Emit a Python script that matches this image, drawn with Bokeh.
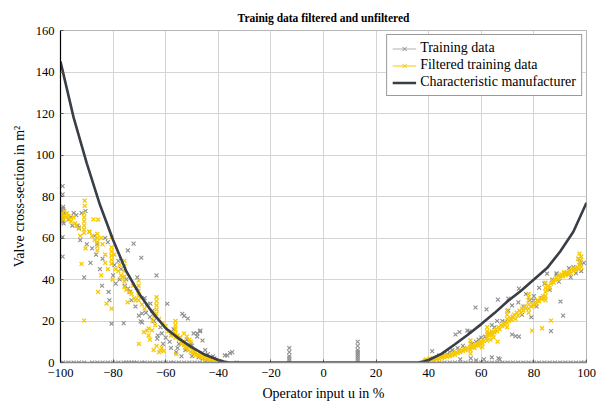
from bokeh.plotting import figure
from bokeh.models import Legend, LegendItem, FixedTicker, ColumnDataSource
from bokeh.embed import file_html
from bokeh.resources import INLINE

# ---------------- data ----------------
title_text = "Trainig data filtered and unfiltered"
x_ticks = [-100, -80, -60, -40, -20, 0, 20, 40, 60, 80, 100]
x_tick_labels = ["\u2212100", "\u221280", "\u221260", "\u221240", "\u221220", "0", "20", "40", "60", "80", "100"]
y_ticks = [0, 20, 40, 60, 80, 100, 120, 140, 160]
y_tick_labels = ["0", "20", "40", "60", "80", "100", "120", "140", "160"]

# characteristic curve of the manufacturer
char_u = [-100, -95, -90, -85, -80, -75, -70, -65, -60, -55, -50, -45, -40, -38, -36,
          36, 38, 40, 45, 50, 55, 60, 65, 70, 75, 80, 85, 90, 95, 100]
char_y = [145, 118, 96, 76, 59, 44, 33, 24, 16.5, 11.5, 7.3, 3.7, 1.2, 0.5, 0,
          0, 0.5, 1.2, 4.3, 8.8, 13.5, 18.5, 23.8, 29.5, 34.5, 40, 45.5, 53.5, 63, 77]

# raw training data (left branch)
train_left_u = [-99.2, -99.2, -99.2, -99.2, -99, -99, -99, -99, -99, -99, -99, -99, -98.8,
                -96, -95, -94, -93.5, -92, -91, -90.5, -89, -88.6, -87, -86, -85, -84.2, -83, -82,
                -81.7, -80.6, -80, -79, -78, -77, -76, -75, -74.4, -73.5, -72.2, -71, -70.8, -69.3,
                -69.5, -68, -67, -66, -65, -63.5, -63, -62, -61, -60, -59.4, -58, -57, -56, -55, -54,
                -53.7, -53, -52, -51, -50, -49.4, -49, -48, -47, -46, -45, -44, -43, -42, -37.5, -35.5,
                -51.6, -69, -70.2, -69, -65.8, -46.8, -48, -50, -46, -63.2, -36.6, -34.7, -74.3, -81.4,
                -97, -95.5, -93, -92.5, -90, -88, -86.5, -84, -79.5, -77.5, -75.5, -73, -71.5, -67.5,
                -64.5, -61.5, -58.5, -55.5, -54.5, -52.5, -50.5, -47.5, -44.5, -41.5, -40.5]
train_left_y = [85, 81, 60.5, 51, 75, 74, 73, 72, 71, 70, 69, 68, 67,
                70, 72, 71, 66, 72, 41, 73, 63, 48, 61, 57, 45, 37, 60, 58,
                34, 18.7, 42, 38, 49, 45, 19, 40, 54, 34, 57.3, 36, 41, 50.5,
                19.8, 31, 28, 22, 25, 42, 13, 17, 9, 12, 28.3, 7, 16, 5, 9, 3,
                23.5, 22.5, 11, 8, 3, 14, 5, 12.5, 15, 2, 6, 4, 1.5, 3, 3.4, 4.5,
                21.2, 19.3, 22.6, 23.6, 28.4, 15.4, 14, 8.2, 10.6, 11.5, 3.4, 5, 35.6, 30,
                69, 66, 65, 59, 57, 55, 52, 50, 47, 40, 37, 30, 27, 24,
                20, 14, 10, 7, 12, 6, 9, 2.5, 1, 2, 0.8]

# raw training data (right branch)
train_right_u = [41.3, 43, 45, 47, 49, 50.2, 51.7, 53, 54.7, 55.5, 57.8, 58, 60, 62, 63, 64, 66.3,
                 66.5, 67, 68, 70.3, 71.7, 72, 73, 74.1, 74.3, 76, 77, 79.9, 80, 82, 83, 84, 86.5,
                 87, 88.6, 90.1, 91.1, 92, 93.3, 95, 97, 97.5, 98, 99, 52, 56, 58, 61, 64,
                 74.3, 79, 81.4, 85, 88.6, 93.3, 97.7, 70.3, 71.7, 66,
                 44, 48, 51, 56.5, 59, 61.5, 65, 69, 75.5, 78.5, 81, 86, 89.5, 94, 96]
train_right_y = [5.5, 2, 3, 4, 6, 13.5, 14.7, 8, 15.4, 15, 26.5, 10, 12, 25.6, 14, 18, 30.3,
                 2, 1.5, 20, 30.8, 13.5, 22, 12.7, 29, 12.5, 27, 33, 29.9, 32, 36, 31, 38, 15.1,
                 40, 42.4, 29.4, 22.6, 43, 45.5, 46, 50, 47, 44, 48, 1.5, 2, 1, 1.5, 2.5,
                 35.6, 21.8, 30, 42.8, 43, 42.7, 48.5, 25, 27.5, 20,
                 3.5, 5, 7, 9, 11, 12.5, 17, 19.5, 23, 30, 27, 35, 39, 41, 43]

# raw training data lying on / near the zero line
train_zero_u = [-99, -97, -95, -93, -91, -88, -86, -84, -82, -80, -78, -76, -75, -74, -73, -72,
                -71, -69, -68, -66, -64, -62, -60, -58, -57, -55, -53, -51, -49, -47, -45, -43,
                -41, -39, -33, -13, -13, -13, -13, -13, -13, 13, 13, 13, 13, 13, 13, 13, 13, 13,
                38, 40, 42, 44, 46, 48, 50, 52, 54, 56, 58, 60, 62, 64, 66, 68, 70, 72, 74, 76,
                78, 80, 82, 84, 86, 88, 90, 92, 94, 96, 98, 99]
train_zero_y = [0, 0, 0, 0, 0, 0, 0, 0, 0, 0, 0, 0, 0, 0, 0, 0,
                0, 0, 0, 0, 0, 0, 0, 0, 0, 0, 0, 0, 0, 0, 0, 0,
                0, 0, 0, 0, 1, 2, 3, 5, 7, 0, 1, 2, 3, 4, 5, 6, 8, 10,
                0, 0, 0, 0, 0, 0, 0, 0, 0, 0, 0, 0, 0, 0, 0, 0, 0, 0, 0, 0,
                0, 0, 0, 0, 0, 0, 0, 0, 0, 0, 0, 0]

# filtered training data (left branch)
filt_left_u = [-99.3, -99.3, -99, -98.5, -98.5, -98, -97.5, -97, -96.5, -96, -95, -94.5, -94, -93,
               -91, -91, -91, -91, -91, -91, -90.8, -90.8, -91, -92, -90.5, -92.5, -89,
               -86, -86, -86, -86, -86, -87.5, -85.7, -85.7, -87, -88, -84.5, -84, -83, -82.5, -83, -84.5, -82,
               -80.6, -80.6, -80.6, -80.6, -80.6, -80.6, -80.6, -80.2, -79.5, -79, -78, -77.5, -77, -76.5,
               -75.7, -75.7, -75.7, -75.7, -75.7, -75.7, -74.5, -75, -74, -73, -72.5, -72, -71.5,
               -70.3, -70.3, -70.3, -70.3, -70.3, -70.2, -69, -68, -67, -66.5, -66, -65, -64.5, -64,
               -63.5, -63.5, -63.5, -63.5, -63.5, -62, -62.5, -61, -60, -59, -58, -57.5,
               -56.3, -56.3, -56.3, -56.3, -56.3, -56, -55.5, -55, -54.5, -54, -53.5, -53, -52.5, -52,
               -51.5, -51, -50.5, -50, -49.5, -49, -48.5, -48, -47.5, -47, -46.5, -46, -45.5, -45,
               -44.5, -44, -43.5, -43, -42.5, -42, -41.5, -41, -40.5, -40, -39.5, -39,
               -53, -52, -51, -50.5, -68.3, -66.5, -65.2, -64.6, -63.5, -62.5, -61.5, -60.8]
filt_left_y = [72, 70.5, 69, 73, 71, 70, 72, 70.5, 69, 68, 70, 67, 66, 64.5,
               72, 70, 68, 66, 64, 62.5, 78, 75.5, 20.2, 47.5, 55, 61, 63,
               62, 60, 58, 56, 54, 69, 68.8, 34, 59, 61, 60, 57, 52, 28.4, 48, 42, 45,
               60.5, 55.5, 53.5, 51.5, 49.5, 47.6, 26, 40, 52, 45, 44, 47, 42, 41,
               49, 46.5, 44, 41.5, 39, 36.5, 29, 35, 34, 33, 37, 31, 30,
               39.5, 37, 34.5, 32, 30, 9, 28, 26, 15.4, 13, 11, 20, 22, 18,
               31.5, 29.5, 27.5, 25.5, 23.5, 5.8, 21, 19, 17.5, 15, 13, 14,
               20, 18, 16, 14, 12, 4, 13, 11, 12, 9, 10, 8.5, 7, 8,
               6, 7.5, 5, 6, 4.5, 5.5, 3.5, 4, 3, 4.5, 2.5, 3.5, 2, 3,
               1.5, 2.5, 1.2, 2, 1, 1.5, 0.8, 1.2, 0.6, 0.8, 0.5, 0.4,
               14, 12.5, 11, 10, 14.6, 16.4, 15.5, 6, 8, 5, 7, 5.5]

# filtered training data (right branch)
filt_right_u = [38.5, 39, 39.5, 40, 40.5, 41, 41.5, 42, 42.5, 43, 43.5, 44, 44.5, 45, 45.5, 46,
                46.5, 47, 47.5, 48, 48.5, 49, 49.5, 50, 50.5, 51, 51.5, 52, 52.5, 53, 53.5, 54,
                54.5, 55, 55.9, 55.9, 55.9, 55.9, 55.9, 56.5, 57, 57.5, 58, 58.5, 59, 59.5, 60,
                60.5, 61, 62.2, 62.2, 62.2, 62.2, 62.2, 63, 63.5, 64, 64.5, 65, 65.5, 66, 66.2,
                66.5, 67, 67.5, 68, 68.5, 69, 69.8, 69.8, 69.8, 69.8, 69.8, 70.5, 71, 71.5, 72,
                72.5, 73, 73.5, 74, 74.5, 75, 75.5, 76, 76.5, 77, 78, 78, 78, 78, 78, 78,
                79.3, 83.1, 86.5, 79, 79.5, 80, 80.5, 81, 81.5, 82, 82.5, 83, 83.5, 84,
                84.4, 84.4, 84.4, 84.4, 84.4, 85, 85.5, 86, 86.5, 87, 87.5, 88, 88.5, 89, 89.5,
                90, 90.5, 91, 91.5, 92, 92.5, 93, 93.5, 94, 94.5, 95, 95.5, 96, 96.5, 97, 97.3,
                97.5, 97.8, 98, 98, 97.3, 96.8, 63.5, 64.7, 60.3, 91.4]
filt_right_y = [1, 1.5, 0.8, 1.2, 2, 1, 1.8, 1.3, 2.2, 1.5, 2.5, 1.8, 2.8, 2.2, 3, 2.5,
                3.3, 2.8, 3.6, 3, 4, 3.5, 4.3, 3.8, 5, 4.5, 5.5, 5, 6, 5.5, 6.5, 6,
                7, 6.5, 4.3, 6, 7.5, 9, 10.6, 7.5, 8, 7, 8.5, 9, 8, 9.5, 10,
                9, 10.5, 10.6, 12, 13.5, 15, 17, 13, 14, 15, 13.5, 14.5, 16, 15, 10.1,
                17, 16, 18, 17.5, 19, 18, 17, 19, 21, 23, 25, 20, 21.5, 20.5, 22,
                23, 21, 24, 22.5, 25, 24, 26, 25, 27, 26, 24, 26, 28, 30, 31.5, 33,
                15.4, 16.5, 20.2, 27, 28, 27.5, 29, 28.5, 30, 29.5, 31, 30.5, 32, 31,
                30, 32, 34, 36, 38.5, 35, 37, 36, 38, 39.5, 38.5, 40, 41, 40, 42,
                41, 42.5, 41.5, 43, 42, 43.5, 42.5, 44, 43, 45, 44, 45.5, 44.5, 46, 45, 47,
                48, 49.5, 46, 51, 52.5, 50, 11, 12, 7.4, 43.5]

train_u = train_left_u + train_right_u + train_zero_u
train_y = train_left_y + train_right_y + train_zero_y
filt_u = filt_left_u + filt_right_u
filt_y = filt_left_y + filt_right_y

# ---------------- styling ----------------
SERIF = "Liberation Serif"
GRAY = "#8e8e8e"
YELLOW = "#f7c900"
DARK = "#393e47"

p = figure(width=615, height=407, output_backend="svg", toolbar_location=None,
           x_range=(-100, 100), y_range=(0, 160),
           min_border_left=60, min_border_right=29, min_border_top=30, min_border_bottom=45,
           title=title_text)

p.title.align = "center"
p.title.text_font = SERIF
p.title.text_font_size = "11.5px"
p.title.text_font_style = "bold"
p.title.text_color = "black"
p.title.standoff = 14

p.outline_line_color = "#b5b5b5"
p.outline_line_width = 1
p.background_fill_color = "white"
p.border_fill_color = "white"

xax = p.xaxis[0]
yax = p.yaxis[0]
xax.ticker = FixedTicker(ticks=x_ticks)
xax.major_label_overrides = {t: l for t, l in zip(x_ticks, x_tick_labels)}
yax.ticker = FixedTicker(ticks=y_ticks)
yax.major_label_overrides = {t: l for t, l in zip(y_ticks, y_tick_labels)}

for ax in (xax, yax):
    ax.major_label_text_font = SERIF
    ax.major_label_text_font_size = "12.5px"
    ax.major_label_text_color = "black"
    ax.axis_label_text_font = SERIF
    ax.axis_label_text_font_size = "14px"
    ax.axis_label_text_font_style = "normal"
    ax.axis_label_text_color = "black"
    ax.major_tick_out = 0
    ax.major_tick_in = 3
    ax.major_tick_line_color = "#555555"
    ax.minor_tick_line_color = None
    ax.major_label_standoff = 6
    ax.axis_label_standoff = 6

xax.axis_label = "Operator input u in %"
yax.axis_label = "Valve cross-section in m\u00b2"
xax.axis_line_color = "#8a8a8a"
xax.axis_line_width = 1.5
yax.axis_line_color = "black"
yax.axis_line_width = 1.2

p.xgrid.ticker = FixedTicker(ticks=x_ticks)
p.ygrid.ticker = FixedTicker(ticks=y_ticks)
p.grid.grid_line_color = "#d4d4d4"
p.grid.grid_line_width = 1

train_src = ColumnDataSource(dict(u=train_u, y=train_y))
filt_src = ColumnDataSource(dict(u=filt_u, y=filt_y))
char_src = ColumnDataSource(dict(u=char_u, y=char_y))

r_train = p.scatter("u", "y", source=train_src, marker="x", size=5.5, line_color=GRAY, line_width=1.1)
r_filt = p.scatter("u", "y", source=filt_src, marker="x", size=5.5, line_color=YELLOW, line_width=1.3)
r_char = p.line("u", "y", source=char_src, line_color=DARK, line_width=2.6)

# legend proxies (empty lines that only carry the legend styling)
nan = float("nan")
lg_train_line = p.line([nan], [nan], line_color="#b0b0b0", line_width=1.2)
lg_train_mark = p.scatter([nan], [nan], marker="x", size=5, line_color=GRAY, line_width=1)
lg_filt_line = p.line([nan], [nan], line_color=YELLOW, line_width=1.2)
lg_filt_mark = p.scatter([nan], [nan], marker="x", size=5, line_color=YELLOW, line_width=1)

legend = Legend(items=[
    LegendItem(label="Training data", renderers=[lg_train_line, lg_train_mark]),
    LegendItem(label="Filtered training data", renderers=[lg_filt_line, lg_filt_mark]),
    LegendItem(label="Characteristic manufacturer", renderers=[r_char]),
], location="top_right")
legend.margin = 4
legend.padding = 5
legend.spacing = 1
legend.glyph_width = 24
legend.glyph_height = 15
legend.label_height = 15
legend.label_standoff = 4
legend.label_text_font = SERIF
legend.label_text_font_size = "14px"
legend.label_text_color = "black"
legend.border_line_color = "#333333"
legend.border_line_width = 1
legend.background_fill_color = "white"
legend.background_fill_alpha = 1
p.add_layout(legend)

open("out.html", "w").write(file_html(p, INLINE))
